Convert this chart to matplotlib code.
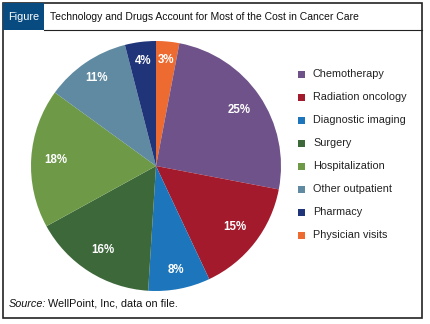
import matplotlib
matplotlib.use("Agg")
import matplotlib.pyplot as plt
from matplotlib.patches import Rectangle
import numpy as np

# cost shares, drawn clockwise starting at 12 o'clock
categories = ["Physician visits", "Chemotherapy", "Radiation oncology", "Diagnostic imaging",
              "Surgery", "Hospitalization", "Other outpatient", "Pharmacy"]
shares = [3, 25, 15, 8, 16, 18, 11, 4]
colors = ["#ED6B30", "#6F5289", "#A21A2C", "#1D76BB", "#3D693A", "#6E9A48", "#5F8AA1", "#1F3479"]

# legend order as printed
legend_order = ["Chemotherapy", "Radiation oncology", "Diagnostic imaging", "Surgery",
                "Hospitalization", "Other outpatient", "Pharmacy", "Physician visits"]

title = "Technology and Drugs Account for Most of the Cost in Cancer Care"
source_label = "Source:"
source_text = "WellPoint, Inc, data on file."

W, H = 431, 324
fig = plt.figure(figsize=(W / 100, H / 100), dpi=100)
fig.patch.set_facecolor("white")
renderer = fig.canvas.get_renderer()

def fit_width(t, width_px):
    # shrink/grow a text until it spans the given width in pixels
    for _ in range(3):
        w = t.get_window_extent(renderer=renderer).width
        t.set_fontsize(t.get_fontsize() * width_px / w)

# frame and header
frame = fig.add_axes([0, 0, 1, 1])
frame.set_xlim(0, W)
frame.set_ylim(H, 0)
frame.axis("off")
frame.add_patch(Rectangle((3, 3), 419, 315, fill=False, edgecolor="#222222", lw=1.2))
frame.add_patch(Rectangle((3, 3), 41, 27, facecolor="#074B80", edgecolor="none"))
frame.plot([44, 422], [30, 30], color="#222222", lw=0.8)
t = frame.text(23.5, 17, "Figure", color="white", fontsize=8, ha="center", va="center",
               family="Liberation Sans")
fit_width(t, 31)
t = frame.text(50, 17, title, color="#111111", fontsize=8, ha="left", va="center",
               family="Liberation Sans")
fit_width(t, 312)

s1 = frame.text(9, 304, source_label, color="#111111", fontsize=7.8, ha="left", va="center",
                style="italic", family="Liberation Sans")
bb = s1.get_window_extent(renderer=renderer)
frame.text(bb.x1 + 1.5, 304, source_text, color="#111111", fontsize=7.8, ha="left", va="center",
           family="Liberation Sans")

# pie
cx, cy, r = 156, 166, 125
ax = fig.add_axes([(cx - r) / W, (H - cy - r) / H, 2 * r / W, 2 * r / H])
wedges, _ = ax.pie(shares, colors=colors, startangle=90, counterclock=False,
                   radius=1.0, wedgeprops=dict(linewidth=0))
ax.set_xlim(-1, 1)
ax.set_ylim(-1, 1)
ax.set_aspect("equal")
ax.axis("off")

for w, s in zip(wedges, shares):
    mid = np.deg2rad((w.theta1 + w.theta2) / 2)
    d = 0.85 if s < 12 else 0.8
    ax.text(d * np.cos(mid), d * np.sin(mid), f"{s}%", color="white", fontsize=8.3,
            fontweight="bold", ha="center", va="center", family="Liberation Sans")

# legend
color_of = dict(zip(categories, colors))
for i, name in enumerate(legend_order):
    y = 74 + i * 23
    frame.add_patch(Rectangle((298, y - 3.5), 7, 7, facecolor=color_of[name], edgecolor="none"))
    frame.text(313, y, name, color="#222222", fontsize=7.8, ha="left", va="center",
               family="Liberation Sans")

fig.savefig("out.png", dpi=100)
